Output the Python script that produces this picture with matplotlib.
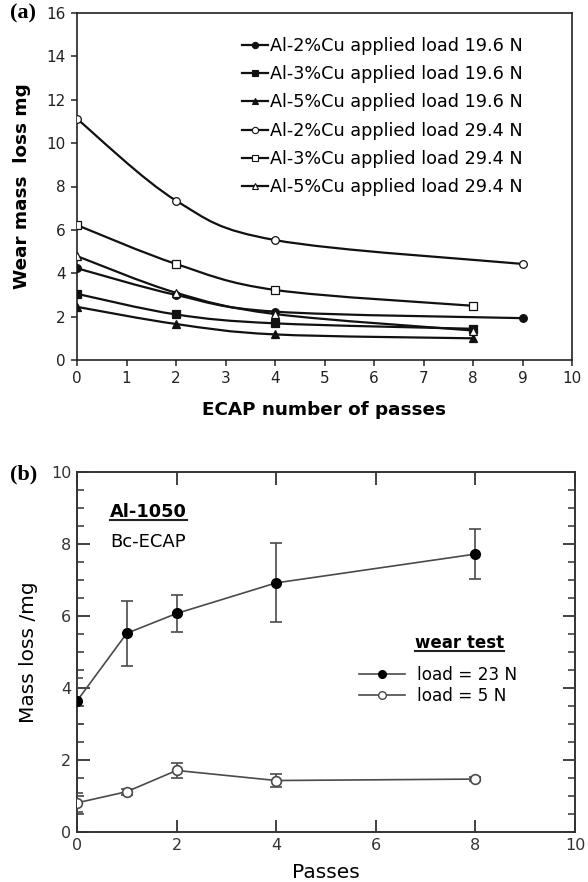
import numpy as np
import matplotlib
matplotlib.use("Agg")
import matplotlib.pyplot as plt
from matplotlib.path import Path
from matplotlib.patches import PathPatch
from matplotlib.lines import Line2D

plt.rcParams['font.family'] = ['DejaVu Sans']

# ---- panel (a): wear mass loss vs ECAP passes ----
labels_a = ["Al-2%Cu applied load 19.6 N", "Al-3%Cu applied load 19.6 N",
            "Al-5%Cu applied load 19.6 N", "Al-2%Cu applied load 29.4 N",
            "Al-3%Cu applied load 29.4 N", "Al-5%Cu applied load 29.4 N"]
passes_2cu = [0, 2, 4, 9]
passes_other = [0, 2, 4, 8]
cu2_196 = [4.23, 3.0, 2.23, 1.93]
cu3_196 = [3.05, 2.1, 1.69, 1.44]
cu5_196 = [2.45, 1.66, 1.18, 1.0]
cu2_294 = [11.12, 7.35, 5.53, 4.43]
cu3_294 = [6.22, 4.43, 3.23, 2.5]
cu5_294 = [4.79, 3.1, 2.12, 1.36]

# ---- panel (b): Al-1050 Bc-ECAP ----
passes_b = [0, 1, 2, 4, 8]
load23 = [3.64, 5.52, 6.07, 6.92, 7.72]
load23_err = [0.65, 0.9, 0.51, 1.1, 0.7]
load5 = [0.81, 1.12, 1.71, 1.43, 1.47]
load5_err = [0.26, 0.08, 0.2, 0.18, 0.05]


def smooth_path(x, y):
    # excel-style smoothed line through the points (catmull-rom as beziers)
    pts = np.column_stack([x, y]).astype(float)
    n = len(pts)
    verts = [pts[0]]
    codes = [Path.MOVETO]
    for i in range(n - 1):
        p0 = pts[max(i - 1, 0)]
        p1 = pts[i]
        p2 = pts[i + 1]
        p3 = pts[min(i + 2, n - 1)]
        verts += [p1 + (p2 - p0) / 6, p2 - (p3 - p1) / 6, p2]
        codes += [Path.CURVE4] * 3
    return Path(verts, codes)


W, H = 588, 882
fig = plt.figure(figsize=(W / 100, H / 100), dpi=100)

ax1 = fig.add_axes([77 / W, 1 - 360 / H, 495 / W, 347 / H])
ax2 = fig.add_axes([77 / W, 1 - 832 / H, 498 / W, 360 / H])

k = '#111111'
series = [(passes_2cu, cu2_196, 'o', k), (passes_other, cu3_196, 's', k),
          (passes_other, cu5_196, '^', k), (passes_2cu, cu2_294, 'o', 'white'),
          (passes_other, cu3_294, 's', 'white'), (passes_other, cu5_294, '^', 'white')]
handles = []
for (xs, ys, m, fc), lab in zip(series, labels_a):
    ax1.add_patch(PathPatch(smooth_path(xs, ys), fill=False, ec=k, lw=1.6, zorder=2))
    ax1.plot(xs, ys, ls='none', marker=m, ms=5.5, mfc=fc,
             mec=k, mew=0.9, zorder=3)
    handles.append(Line2D([], [], color=k, lw=1.6, marker=m, ms=4.5, mfc=fc,
                          mec=k, mew=0.8))

ax1.set_xlim(0, 10)
ax1.set_ylim(0, 16)
ax1.set_xticks(range(0, 11))
ax1.set_yticks(range(0, 17, 2))
ax1.tick_params(direction='out', length=4, width=1.1, labelsize=11,
                colors='#222222', pad=4)
for s in ax1.spines.values():
    s.set_linewidth(1.2)
    s.set_color('#222222')
ax1.set_xlabel("ECAP number of passes", fontsize=13.2, fontweight='bold')
ax1.set_ylabel("Wear mass  loss mg", fontsize=13.2, fontweight='bold')
ax1.xaxis.set_label_coords(0.5, (360 - 410) / 347)
ax1.xaxis.label.set_va('center')
ax1.yaxis.set_label_coords((22 - 77) / 495, 0.5)
ax1.yaxis.label.set_va('center')
ax1.legend(handles, labels_a, loc='upper left', frameon=False,
           bbox_to_anchor=(242 / W, 1 - 37 / H), bbox_transform=fig.transFigure,
           borderpad=0, borderaxespad=0, handlelength=1.5, handletextpad=0.1,
           labelspacing=0.58, fontsize=12.7)

# panel (b)
g = '#4a4a4a'
ax2.errorbar(passes_b, load23, yerr=load23_err, color=g, lw=1.2, marker='o',
             ms=7, mfc='black', mec='black', ecolor=g, elinewidth=1.2,
             capsize=4, capthick=1.2, zorder=3)
ax2.errorbar(passes_b, load5, yerr=load5_err, color=g, lw=1.2, marker='o',
             ms=7, mfc='white', mec=g, mew=1.2, ecolor=g, elinewidth=1.2,
             capsize=4, capthick=1.2, zorder=3)
ax2.set_xlim(0, 10)
ax2.set_ylim(0, 10)
ax2.set_xticks(range(0, 11, 2))
ax2.set_yticks(range(0, 11, 2))
ax2.set_yticks(np.arange(0, 10.01, 0.5), minor=True)
ax2.tick_params(which='major', direction='in', length=9, width=1.3,
                top=True, right=True, labelsize=11.5, colors='#333333', pad=4)
ax2.tick_params(which='minor', direction='in', length=5, width=1.1,
                left=True, right=True, colors='#333333')
for s in ax2.spines.values():
    s.set_linewidth(1.4)
    s.set_color('#333333')
ax2.set_xlabel("Passes", fontsize=14.5)
ax2.set_ylabel("Mass loss /mg", fontsize=14.5)
ax2.xaxis.set_label_coords(0.5, (832 - 872) / 360)
ax2.xaxis.label.set_va('center')
ax2.yaxis.set_label_coords((28 - 77) / 498, 0.5)
ax2.yaxis.label.set_va('center')

h23 = Line2D([], [], color=g, lw=1.2, marker='o', ms=5.5, mfc='black', mec='black')
h5 = Line2D([], [], color=g, lw=1.2, marker='o', ms=5.5, mfc='white', mec=g)
ax2.legend([h23, h5], ["load = 23 N", "load = 5 N"], loc='upper left',
           frameon=False, bbox_to_anchor=(359 / W, 1 - 666 / H),
           bbox_transform=fig.transFigure, borderpad=0, borderaxespad=0,
           handlelength=2.7, handletextpad=0.7, labelspacing=0.2, fontsize=12.2)

fig.text(10 / W, 1 - 13 / H, "(a)", family='Liberation Serif', fontweight='bold',
         fontsize=16, va='center', ha='left')
fig.text(10 / W, 1 - 474 / H, "(b)", family='Liberation Serif', fontweight='bold',
         fontsize=16, va='center', ha='left')
t1 = fig.text(110 / W, 1 - 512 / H, "Al-1050", fontweight='bold', fontsize=12.8,
              va='center', ha='left')
fig.text(110 / W, 1 - 542 / H, "Bc-ECAP", fontsize=13, va='center', ha='left')
t2 = fig.text(415 / W, 1 - 643 / H, "wear test", fontweight='bold', fontsize=12,
              va='center', ha='left')

# underline the two headings
fig.canvas.draw()
for t in (t1, t2):
    bb = t.get_window_extent()
    yy = bb.y0 + 1
    fig.add_artist(Line2D([bb.x0, bb.x1], [yy, yy], transform=None,
                          color='#222222', lw=1.5))

fig.savefig("out.png", dpi=100)
